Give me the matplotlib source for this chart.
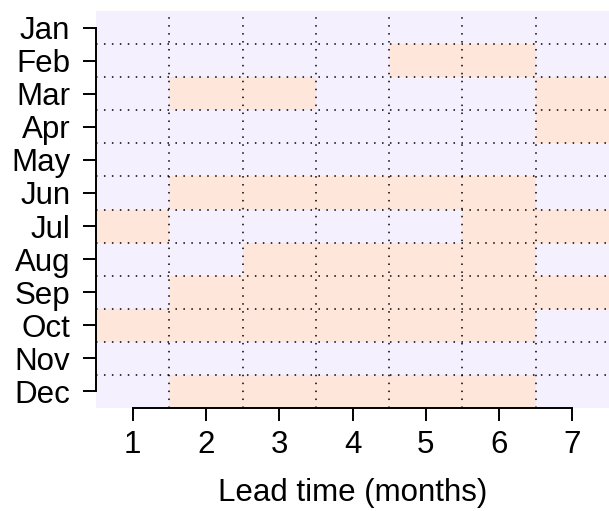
"""Monthly skill by lead time, shown as a two-colour grid."""

from matplotlib import pyplot
from matplotlib.colors import ListedColormap
import numpy

# Data (1 = peach cell, 0 = lavender cell).
months = ['Jan', 'Feb', 'Mar', 'Apr', 'May', 'Jun',
          'Jul', 'Aug', 'Sep', 'Oct', 'Nov', 'Dec']
lead_times = [1, 2, 3, 4, 5, 6, 7]
skill = [
    [0, 0, 0, 0, 0, 0, 0],  # Jan
    [0, 0, 0, 0, 1, 1, 0],  # Feb
    [0, 1, 1, 0, 0, 0, 1],  # Mar
    [0, 0, 0, 0, 0, 0, 1],  # Apr
    [0, 0, 0, 0, 0, 0, 0],  # May
    [0, 1, 1, 1, 1, 1, 0],  # Jun
    [1, 0, 0, 0, 0, 1, 1],  # Jul
    [0, 0, 1, 1, 1, 1, 0],  # Aug
    [0, 1, 1, 1, 1, 1, 1],  # Sep
    [1, 1, 1, 1, 1, 1, 0],  # Oct
    [0, 0, 0, 0, 0, 0, 0],  # Nov
    [0, 1, 1, 1, 1, 1, 0],  # Dec
]

pyplot.rc('font', family=['Liberation Sans', 'DejaVu Sans'], size=22.5)

fig = pyplot.figure(figsize=(6.09, 5.11), dpi=100)
ax = fig.add_axes([96 / 609, 103 / 511, 513 / 609, 397 / 511])

x = numpy.arange(len(lead_times) + 1) + 0.5
y = numpy.arange(len(months) + 1) + 0.5
cmap = ListedColormap(['#F5F0FE', '#FEE6DB'])
ax.pcolormesh(x, y, numpy.array(skill), cmap=cmap, vmin=0, vmax=1)

# Dotted lines on cell boundaries.
dotted = dict(color='black', linewidth=1.1, linestyle=(0, (1, 4.2)))
for xv in x[1:-1]:
    ax.axvline(xv, **dotted)
for yv in y[1:-1]:
    ax.axhline(yv, **dotted)

ax.set_xlim(0.5, len(lead_times) + 0.5)
ax.set_ylim(len(months) + 0.5, 0.5)
ax.set_xticks(lead_times)
ax.set_yticks(numpy.arange(1, len(months) + 1))
ax.set_yticklabels(months)
ax.set_xlabel('Lead time (months)', labelpad=13)

for side in ('top', 'right'):
    ax.spines[side].set_visible(False)
ax.spines['left'].set_bounds(1, len(months))
ax.spines['bottom'].set_bounds(1, len(lead_times))
ax.spines['left'].set_linewidth(1.4)
ax.spines['bottom'].set_linewidth(1.4)
ax.tick_params(axis='both', direction='out', length=9.5, width=1.4)
ax.tick_params(axis='x', pad=6)
ax.tick_params(axis='y', pad=9)

fig.savefig('out.png', dpi=100)
